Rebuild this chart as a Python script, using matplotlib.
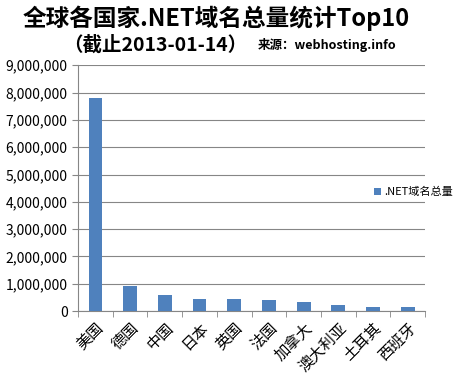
import matplotlib.pyplot as plt
from matplotlib.ticker import FuncFormatter

plt.rcParams['font.family'] = ['Noto Sans CJK SC', 'DejaVu Sans']

countries = ["美国", "德国", "中国", "日本", "英国", "法国", "加拿大", "澳大利亚", "土耳其", "西班牙"]
counts = [7790000, 910000, 590000, 440000, 440000, 400000, 330000, 220000, 150000, 150000]
series_name = ".NET域名总量"
yticks = list(range(0, 9000001, 1000000))

fig = plt.figure(figsize=(4.65, 3.79), dpi=100)
ax = fig.add_axes([0.168, 0.179, 0.746, 0.649])

x = range(len(countries))
ax.bar(x, counts, width=0.4, color="#4F81BD", label=series_name, zorder=3)
ax.set_xlim(-0.5, len(countries) - 0.5)
ax.set_ylim(0, 9000000)
ax.set_yticks(yticks)
ax.yaxis.set_major_formatter(FuncFormatter(lambda v, p: f"{int(v):,}"))
ax.grid(axis="y", color="#868686", linewidth=0.8, zorder=0)
ax.set_xticks(list(x))
ax.set_xticks([i - 0.5 for i in range(len(countries) + 1)], minor=True)
ax.set_xticklabels(countries, rotation=45, ha="right", rotation_mode="anchor", fontsize=11)
ax.tick_params(axis="y", labelsize=10, length=4, color="#868686")
ax.tick_params(axis="x", which="major", length=0, pad=6)
ax.tick_params(axis="x", which="minor", length=4, color="#868686")
for s in ["top", "right"]:
    ax.spines[s].set_visible(False)
for s in ["left", "bottom"]:
    ax.spines[s].set_color("#868686")

fig.legend(loc="center left", bbox_to_anchor=(0.805, 0.493), frameon=False,
           fontsize=8, handlelength=0.6, handleheight=0.6, handletextpad=0.3,
           borderpad=0, borderaxespad=0)

fig.text(0.465, 0.952, "全球各国家.NET域名总量统计Top10", ha="center", va="center",
         fontsize=17, fontweight="bold")
fig.text(0.135, 0.88, "（截止2013-01-14）", ha="left", va="center",
         fontsize=14, fontweight="bold")
fig.text(0.555, 0.88, "来源：webhosting.info", ha="left", va="center",
         fontsize=9, fontweight="bold")

fig.savefig("out.png", dpi=100, facecolor="white")
